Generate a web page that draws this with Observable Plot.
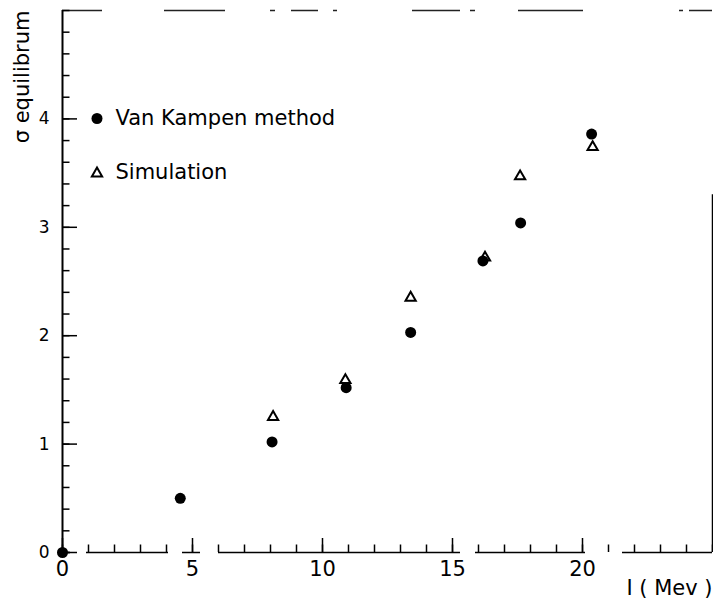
<!DOCTYPE html>
<html><head><meta charset="utf-8">
<script src="https://cdn.jsdelivr.net/npm/d3@7"></script>
<script src="https://cdn.jsdelivr.net/npm/@observablehq/plot@0.6"></script>
<style>
body{margin:0;background:#fff;}
#chart{width:713px;height:600px;}
</style></head><body><div id="chart"></div>
<script>
// Van Kampen method (filled circles)
const tVK = [0, 4.53, 8.06, 10.91, 13.39, 16.17, 17.62, 20.35];
const sigmaVK = [0, 0.50, 1.02, 1.52, 2.03, 2.69, 3.04, 3.86];
// Simulation (open triangles)
const tSim = [8.1, 10.88, 13.39, 16.25, 17.6, 20.39];
const sigmaSim = [1.25, 1.59, 2.35, 2.72, 3.47, 3.74];

const xMajor = [0, 5, 10, 15, 20];
const xMinor = d3.range(0, 26);
const yMajor = [0, 1, 2, 3, 4];
const yMinor = d3.range(0, 26).map(i => i / 5);
const legendLabels = ["Van Kampen method", "Simulation"];
const xLabel = "I ( Mev )";
const yLabel = "σ equilibrum";

const vkData = tVK.map((t, i) => ({t, s: sigmaVK[i]}));
const simData = tSim.map((t, i) => ({t, s: sigmaSim[i]}));

const font = "DejaVu Sans, sans-serif";

const plot = Plot.plot({
  width: 713, height: 600,
  marginLeft: 62, marginRight: 1, marginTop: 10, marginBottom: 48,
  style: {fontFamily: font, background: "#fff", color: "#000", overflow: "visible"},
  x: {domain: [0, 25]},
  y: {domain: [0, 5]},
  marks: [
    // frame (scanned, broken lines)
    Plot.ruleY([5], {stroke: "#222", strokeWidth: 1.5,
      strokeDasharray: "40,62,61,45,5,16,27,15,4,75,48,10,5,43,65,96,4,6,40"}),
    Plot.ruleY([0], {stroke: "#000", strokeWidth: 1.6,
      strokeDasharray: "8,16,82,14,18,18,242,15,110,37,90"}),
    Plot.ruleX([0], {stroke: "#000", strokeWidth: 2}),
    Plot.ruleX([25], {y1: 0, y2: 3.3, stroke: "#000", strokeWidth: 1.5}),
    // inward ticks
    Plot.axisX(xMinor, {tickSize: -7.5, tickFormat: () => "", label: null, strokeWidth: 1.5}),
    Plot.axisX(xMajor, {tickSize: -14, tickFormat: () => "", label: null, strokeWidth: 1.5}),
    Plot.axisX(xMajor, {tickSize: 0, tickPadding: 9, fontSize: 21, label: null, tickFormat: d => String(d)}),
    Plot.axisY(yMinor, {tickSize: -7.5, tickFormat: () => "", label: null, strokeWidth: 1.5}),
    Plot.axisY(yMajor, {tickSize: -15, tickFormat: () => "", label: null, strokeWidth: 1.5}),
    Plot.axisY(yMajor, {tickSize: 0, tickPadding: 13, fontSize: 17, label: null, tickFormat: d => String(d)}),
    // axis titles
    Plot.text([yLabel], {frameAnchor: "top-left", text: d => d, rotate: -90, textAnchor: "end",
      lineAnchor: "middle", dx: -40, dy: 0, fontSize: 21}),
    Plot.text([xLabel], {frameAnchor: "bottom-right", text: d => d, textAnchor: "end",
      lineAnchor: "middle", dx: 0, dy: 36, fontSize: 21}),
    // legend
    Plot.dot([legendLabels[0]], {frameAnchor: "top-left", dx: 34.5, dy: 108, r: 5.5, fill: "#000"}),
    Plot.dot([legendLabels[1]], {frameAnchor: "top-left", dx: 34.5, dy: 163, r: 3.8, symbol: "triangle",
      stroke: "#000", strokeWidth: 2, fill: "#fff"}),
    Plot.text([legendLabels[0]], {frameAnchor: "top-left", text: d => d, dx: 53, dy: 108,
      textAnchor: "start", lineAnchor: "middle", fontSize: 21}),
    Plot.text([legendLabels[1]], {frameAnchor: "top-left", text: d => d, dx: 53, dy: 161.5,
      textAnchor: "start", lineAnchor: "middle", fontSize: 21}),
    // data
    Plot.dot(simData, {x: "t", y: "s", symbol: "triangle", r: 3.8, stroke: "#000", strokeWidth: 2, fill: "#fff"}),
    Plot.dot(vkData, {x: "t", y: "s", r: 5.5, fill: "#000"})
  ]
});
document.getElementById("chart").appendChild(plot);
</script>
</body></html>
